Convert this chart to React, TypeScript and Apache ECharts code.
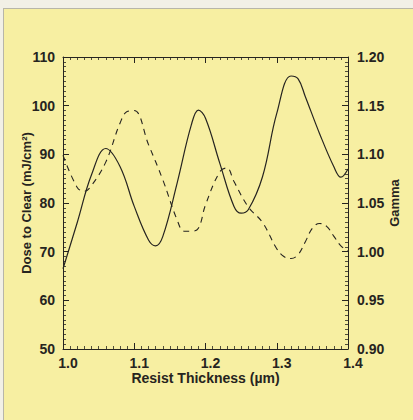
import React, { useEffect, useRef } from "react";
import * as echarts from "echarts";

const doseThickness = [1.0, 1.02, 1.04, 1.06, 1.08, 1.1, 1.12, 1.13, 1.14, 1.16, 1.18, 1.19, 1.2, 1.22, 1.24, 1.25, 1.26, 1.28, 1.3, 1.32, 1.33, 1.34, 1.36, 1.38, 1.39, 1.4];
const doseValues = [66.5, 76, 85.8, 91.2, 87.5, 79.3, 72.4, 71.2, 73.1, 84, 96, 99.1, 97.4, 88.2, 79.3, 77.9, 78.6, 85.4, 98.4, 106.1, 105.5, 101.9, 94.3, 87.5, 85.3, 87];

const gammaThickness = [1.0, 1.02, 1.03, 1.04, 1.06, 1.08, 1.09, 1.1, 1.12, 1.14, 1.16, 1.17, 1.18, 1.19, 1.2, 1.22, 1.23, 1.24, 1.26, 1.28, 1.3, 1.31, 1.32, 1.33, 1.34, 1.35, 1.36, 1.37, 1.38, 1.39, 1.4];
const gammaValues = [1.099, 1.066, 1.062, 1.068, 1.092, 1.132, 1.144, 1.145, 1.11, 1.074, 1.033, 1.021, 1.021, 1.024, 1.048, 1.082, 1.086, 1.072, 1.046, 1.03, 1.003, 0.995, 0.993, 0.997, 1.01, 1.024, 1.029, 1.026, 1.016, 1.006, 1.001];

const xTicks = { min: 1.0, max: 1.4, interval: 0.1 };
const doseTicks = { min: 50, max: 110, interval: 10 };
const gammaTicks = { min: 0.9, max: 1.2, interval: 0.05 };

const FONT = "'Liberation Sans', Arial, sans-serif";
const INK = "#262420";

export default function App() {
  const ref = useRef<HTMLDivElement>(null);
  useEffect(() => {
    if (!ref.current) return;
    const chart = echarts.init(ref.current, undefined, { renderer: "svg" });
    const axisLine = { show: true, lineStyle: { color: INK, width: 1 } };
    const tick = { show: true, inside: true, length: 6, lineStyle: { color: INK, width: 1 } };
    const minor = { show: true, splitNumber: 10, length: 3, lineStyle: { color: INK, width: 0.8 } };
    const lbl = { color: INK, fontFamily: FONT, fontWeight: "bold" as const, fontSize: 14 };
    const nameStyle = { color: INK, fontFamily: FONT, fontWeight: "bold" as const, fontSize: 13 };
    chart.setOption({
      animation: false,
      backgroundColor: "#f7efa2",
      graphic: [
        { type: "rect", shape: { x: 0, y: 0, width: 413, height: 8 }, style: { fill: "#f2f0e6" } },
        { type: "rect", shape: { x: 0, y: 0, width: 3, height: 420 }, style: { fill: "#f2f0e6" } },
        { type: "line", shape: { x1: 3, y1: 8.5, x2: 413, y2: 8.5 }, style: { stroke: "#b8b6a8", lineWidth: 1 } },
        { type: "line", shape: { x1: 3.5, y1: 8, x2: 3.5, y2: 420 }, style: { stroke: "#b8b6a8", lineWidth: 1 } },
      ],
      grid: { left: 63, right: 65, top: 57, bottom: 71, containLabel: false },
      xAxis: [
        {
          type: "value",
          position: "bottom",
          ...xTicks,
          axisLine,
          axisTick: tick,
          minorTick: minor,
          splitLine: { show: false },
          axisLabel: { ...lbl, margin: 7, padding: [0, 0, 0, 10], formatter: (v: number) => v.toFixed(1) },
          name: "Resist Thickness (\u00b5m)",
          nameLocation: "middle",
          nameGap: 22,
          nameMoveOverlap: false,
          nameTextStyle: { ...nameStyle, fontSize: 14, padding: [0, 0, 0, 0] },
        },
        {
          type: "value",
          position: "top",
          ...xTicks,
          axisLine,
          axisTick: tick,
          minorTick: minor,
          splitLine: { show: false },
          axisLabel: { show: false },
        },
      ],
      yAxis: [
        {
          type: "value",
          position: "left",
          ...doseTicks,
          axisLine,
          axisTick: tick,
          minorTick: minor,
          splitLine: { show: false },
          axisLabel: { ...lbl, margin: 8 },
          name: "Dose to Clear (mJ/cm\u00b2)",
          nameLocation: "middle",
          nameGap: 30,
          nameMoveOverlap: false,
          nameTextStyle: nameStyle,
        },
        {
          type: "value",
          position: "right",
          ...gammaTicks,
          axisLine,
          axisTick: tick,
          minorTick: minor,
          splitLine: { show: false },
          axisLabel: { ...lbl, margin: 9, formatter: (v: number) => v.toFixed(2) },
          name: "Gamma",
          nameLocation: "middle",
          nameRotate: 90,
          nameGap: 40,
          nameMoveOverlap: false,
          nameTextStyle: nameStyle,
        },
      ],
      series: [
        {
          type: "line",
          name: "Dose to Clear",
          xAxisIndex: 0,
          yAxisIndex: 0,
          data: doseThickness.map((t, i) => [t, doseValues[i]]),
          smooth: 0.4,
          symbol: "none",
          lineStyle: { color: INK, width: 1.2 },
        },
        {
          type: "line",
          name: "Gamma",
          xAxisIndex: 0,
          yAxisIndex: 1,
          data: gammaThickness.map((t, i) => [t, gammaValues[i]]),
          smooth: 0.4,
          symbol: "none",
          lineStyle: { color: INK, width: 1.1, type: [6, 5] },
        },
      ],
    });
    return () => chart.dispose();
  }, []);
  return (
    <div
      ref={ref}
      style={{ position: "fixed", left: 0, top: 0, width: 413, height: 420 }}
    />
  );
}
